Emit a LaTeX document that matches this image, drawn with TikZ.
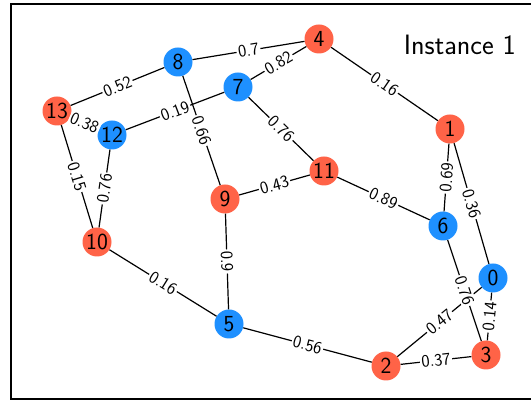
\documentclass[tikz,border=0pt]{standalone}
\usepackage{fontspec}
\definecolor{nred}{HTML}{FF6347}
\definecolor{nblue}{HTML}{1E90FF}
\tikzset{
  vtx/.style={circle,minimum size=29pt,inner sep=0pt,font=\sffamily\fontsize{23}{23}\selectfont},
  rv/.style={vtx,fill=nred},
  bv/.style={vtx,fill=nblue},
  edge/.style={draw=black,line width=1.2pt},
  wlab/.style={sloped,midway,fill=white,inner sep=1.5pt,font=\sffamily\fontsize{17.5}{17.5}\selectfont},
}
\begin{document}
\begin{tikzpicture}[x=1pt,y=-1pt]
\clip (0,0) rectangle (531,403);
\fill[white] (0,0) rectangle (531,403);
\draw[line width=2pt] (540,4) -- (11,4) -- (11,399) -- (540,399);
\node[anchor=base east,inner sep=0pt,font=\sffamily\fontsize{28}{28}\selectfont] (title) at (516,55) {Instance 1};
\node[bv] (n0) at (493,278) {0};
\node[rv] (n1) at (450,129) {1};
\node[rv] (n2) at (386,366) {2};
\node[rv] (n3) at (486,355) {3};
\node[rv] (n4) at (319,39) {4};
\node[bv] (n5) at (229,324) {5};
\node[bv] (n6) at (443,226) {6};
\node[bv] (n7) at (238,87) {7};
\node[bv] (n8) at (178,62) {8};
\node[rv] (n9) at (225,199) {9};
\node[rv] (n10) at (97,242) {10};
\node[rv] (n11) at (324,171) {11};
\node[bv] (n12) at (112,135) {12};
\node[rv] (n13) at (57,111) {13};
\path[edge] (n2) -- node[wlab] {0.47} (n0);
\path[edge] (n8) -- node[wlab] {0.7} (n4);
\path[edge] (n7) -- node[wlab] {0.82} (n4);
\path[edge] (n4) -- node[wlab] {0.16} (n1);
\path[edge] (n13) -- node[wlab] {0.52} (n8);
\path[edge] (n12) -- node[wlab] {0.19} (n7);
\path[edge] (n8) -- node[wlab] {0.66} (n9);
\path[edge] (n7) -- node[wlab] {0.76} (n11);
\path[edge] (n9) -- node[wlab] {0.43} (n11);
\path[edge] (n11) -- node[wlab] {0.89} (n6);
\path[edge] (n1) -- node[wlab] {0.69} (n6);
\path[edge] (n1) -- node[wlab] {0.36} (n0);
\path[edge] (n13) -- node[wlab] {0.38} (n12);
\path[edge] (n13) -- node[wlab] {0.15} (n10);
\path[edge] (n12) -- node[wlab] {0.76} (n10);
\path[edge] (n10) -- node[wlab] {0.16} (n5);
\path[edge] (n9) -- node[wlab] {0.9} (n5);
\path[edge] (n5) -- node[wlab] {0.56} (n2);
\path[edge] (n2) -- node[wlab] {0.37} (n3);
\path[edge] (n6) -- node[wlab] {0.76} (n3);
\path[edge] (n0) -- node[wlab] {0.14} (n3);
\end{tikzpicture}
\end{document}
